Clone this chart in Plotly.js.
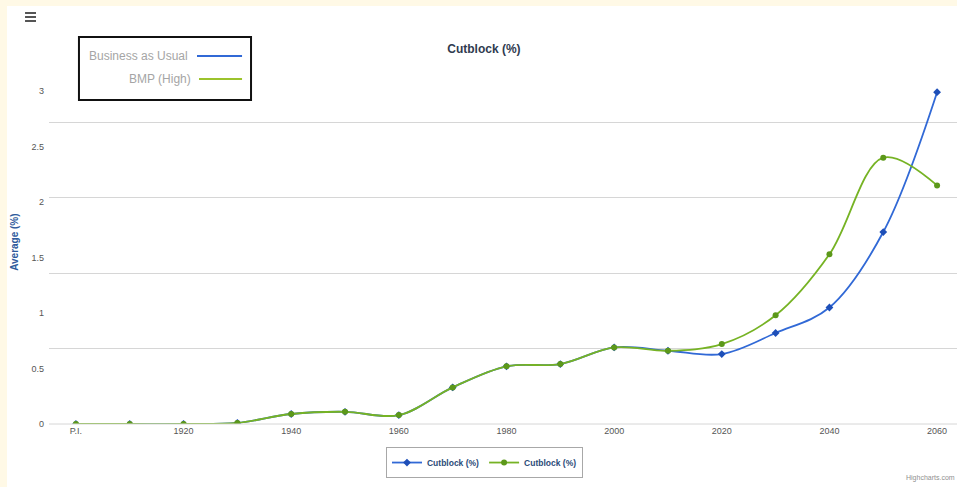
<!DOCTYPE html>
<html>
<head>
<meta charset="utf-8">
<script src="https://cdn.plot.ly/plotly-3.0.1.min.js"></script>
<style>
html,body{margin:0;padding:0;background:#FFF9E6;width:957px;height:487px;overflow:hidden;}
#chart{position:absolute;left:7px;top:6px;width:950px;height:481px;background:#fff;}
</style>
</head>
<body>
<div id="chart"></div>
<script>
// Data
const years = [1900,1910,1920,1930,1940,1950,1960,1970,1980,1990,2000,2010,2020,2030,2040,2050,2060];
const tickYears = [1900,1920,1940,1960,1980,2000,2020,2040,2060];
const tickYearLabels = ["P.I.","1920","1940","1960","1980","2000","2020","2040","2060"];
const businessAsUsual = [0,0,0,0.01,0.09,0.11,0.08,0.33,0.52,0.54,0.69,0.66,0.63,0.82,1.05,1.73,2.99];
const bmpHigh        = [0,0,0,0.01,0.09,0.11,0.08,0.33,0.52,0.54,0.69,0.66,0.72,0.98,1.53,2.40,2.15];
const yTickVals = [0,0.5,1,1.5,2,2.5,3];
const yTickText = ["0","0.5","1","1.5","2","2.5","3"];
const seriesName = "Cutblock (%)";
const chartTitle = "Cutblock (%)";
const yTitle = "Average (%)";
const boxLabels = ["Business as Usual","BMP (High)"];

const blue = "#3169D6", blueMk = "#1E4FB8";
const green = "#76B324", greenMk = "#5C981A";

const traces = [
  {x: years, y: businessAsUsual, name: seriesName, type: "scatter", mode: "lines+markers",
   line: {color: blue, width: 1.8, shape: "spline", smoothing: 1},
   marker: {color: blueMk, size: 6, symbol: "diamond"}, yaxis: "y"},
  {x: years, y: bmpHigh, name: seriesName, type: "scatter", mode: "lines+markers",
   line: {color: green, width: 1.8, shape: "spline", smoothing: 1},
   marker: {color: greenMk, size: 6, symbol: "circle"}, yaxis: "y"},
  // invisible trace to anchor the gridline axis
  {x: [years[0]], y: [0], yaxis: "y2", mode: "markers", marker: {opacity: 0}, showlegend: false, hoverinfo: "skip"}
];

const font = "'Liberation Sans', Arial, sans-serif";

const layout = {
  width: 950, height: 481,
  margin: {l: 42, r: 0, t: 74, b: 63},
  paper_bgcolor: "#ffffff", plot_bgcolor: "rgba(0,0,0,0)",
  font: {family: font, size: 9, color: "#555"},
  title: {text: chartTitle, font: {family: font, size: 12, color: "#2F3B4F", weight: "bold"},
          x: 0.502, xref: "container", y: 0.91, yref: "container", yanchor: "middle"},
  xaxis: {range: [1895, 2063.7], tickvals: tickYears, ticktext: tickYearLabels,
          showgrid: false, zeroline: false, showline: false, ticks: "",
          tickfont: {family: font, size: 9, color: "#555"}},
  yaxis: {range: [0, 3.1], tickvals: yTickVals, ticktext: yTickText,
          showgrid: false, zeroline: false, ticks: "", ticklabelstandoff: 4,
          tickfont: {family: font, size: 9, color: "#555"}},
  yaxis2: {range: [0, 3.1], overlaying: "y", tick0: 0, dtick: 0.68, showgrid: true,
           gridcolor: "#D6D6D6", gridwidth: 1, showticklabels: false, zeroline: false, ticks: ""},
  showlegend: true,
  legend: {orientation: "h", x: 0.4796, xanchor: "center", y: -0.067, yanchor: "top",
           bordercolor: "#A8A8A8", borderwidth: 1, bgcolor: "#fff",
           font: {family: font, size: 8.5, color: "#2B4B78", weight: "bold"},
           itemwidth: 30, tracegroupgap: 0},
  annotations: [
    {text: yTitle, textangle: -90, xref: "paper", yref: "paper", x: -0.047, y: 0.529,
     showarrow: false, font: {family: font, size: 10, color: "#2E5A9C", weight: "bold"}},
    {text: boxLabels[0], xref: "paper", yref: "paper", x: 0.1553, y: 1.070, xanchor: "right", yanchor: "middle",
     showarrow: false, font: {family: font, size: 12, color: "#A5A5A5"}},
    {text: boxLabels[1], xref: "paper", yref: "paper", x: 0.1586, y: 1.003, xanchor: "right", yanchor: "middle",
     showarrow: false, font: {family: font, size: 12, color: "#A5A5A5"}},
    {text: "Highcharts.com", xref: "paper", yref: "paper", x: 1.0, y: -0.175, xanchor: "right",
     showarrow: false, font: {family: font, size: 7, color: "#909090"}}
  ],
  shapes: [
    {type: "rect", xref: "paper", yref: "paper", x0: 0.033, x1: 0.2225, y0: 0.942, y1: 1.125,
     line: {color: "#111", width: 2}, fillcolor: "rgba(0,0,0,0)"},
    {type: "line", xref: "paper", yref: "paper", x0: 0.163, x1: 0.2126, y0: 1.070, y1: 1.070,
     line: {color: blue, width: 2}},
    {type: "line", xref: "paper", yref: "paper", x0: 0.1652, x1: 0.2126, y0: 1.003, y1: 1.003,
     line: {color: "#9CC32C", width: 2}},
    {type: "line", xref: "paper", yref: "paper", x0: 0, x1: 1, y0: 0, y1: 0,
     line: {color: "#D6D6D6", width: 1}},
    // menu icon
    {type: "line", xref: "paper", yref: "paper", x0: -0.0264, x1: -0.0143, y0: 1.1948, y1: 1.1948,
     line: {color: "#555", width: 2}},
    {type: "line", xref: "paper", yref: "paper", x0: -0.0264, x1: -0.0143, y0: 1.1831, y1: 1.1831,
     line: {color: "#555", width: 2}},
    {type: "line", xref: "paper", yref: "paper", x0: -0.0264, x1: -0.0143, y0: 1.1715, y1: 1.1715,
     line: {color: "#555", width: 2}}
  ]
};

Plotly.newPlot("chart", traces, layout, {displayModeBar: false, responsive: false});
</script>
</body>
</html>
